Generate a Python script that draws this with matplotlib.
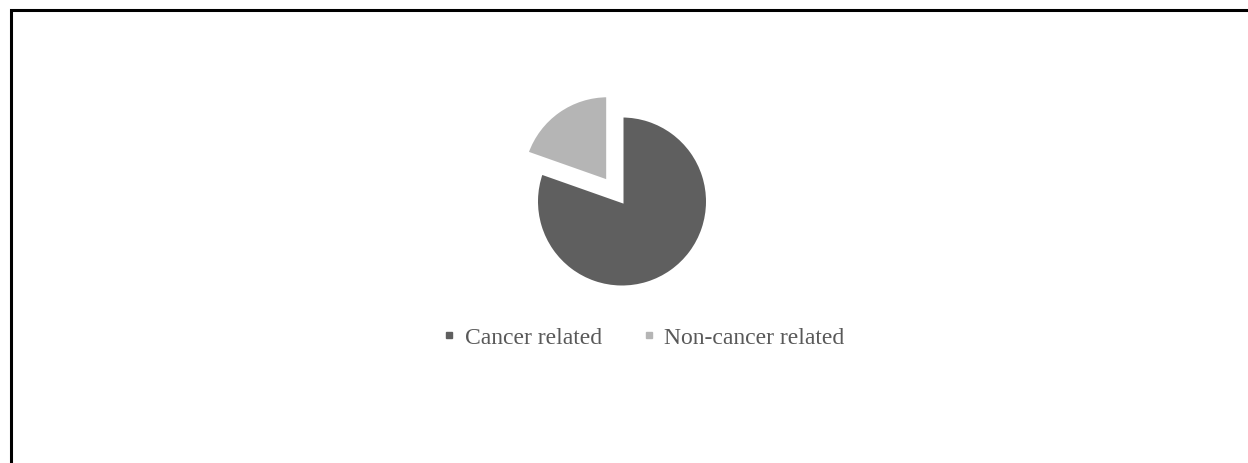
import matplotlib
matplotlib.use("Agg")
import matplotlib.pyplot as plt
from matplotlib.lines import Line2D
from matplotlib.patches import Rectangle

labels = ["Cancer related", "Non-cancer related"]
values = [80.4, 19.6]
colors = ["#5f5f5f", "#b5b5b5"]
explode_frac = [0, 0.29]

W, H = 1248, 463
R = 85.5
fig = plt.figure(figsize=(W / 100, H / 100), dpi=100)
fig.patch.set_facecolor("white")

ax = fig.add_axes([0, 0, 1, 1])

ax.pie(values, colors=colors, explode=[e * R for e in explode_frac],
       startangle=90, counterclock=False,
       center=(622, H - 201.5), radius=R, frame=True,
       wedgeprops=dict(linewidth=2.16, edgecolor="white"))
ax.set_xlim(0, W)
ax.set_ylim(0, H)
ax.set_aspect("equal")
ax.axis("off")

# border (top and left visible)
fig.patches.append(Rectangle((11 / W, -0.1), 1.2, (H - 10) / H + 0.1,
                             transform=fig.transFigure, fill=False,
                             edgecolor="black", linewidth=2.2))

handles = [Line2D([], [], linestyle="none", marker="s", markersize=4.6,
                  markerfacecolor=c, markeredgecolor=c) for c in colors]
leg = fig.legend(handles, labels, loc="center", ncol=2,
                 bbox_to_anchor=(644 / W, 1 - 338 / H),
                 frameon=False, handlelength=0.5, handletextpad=0.4,
                 columnspacing=1.75,
                 prop=dict(family="Liberation Serif", size=17))
for t in leg.get_texts():
    t.set_color("#595959")

fig.savefig("out.png", dpi=100, facecolor="white")
